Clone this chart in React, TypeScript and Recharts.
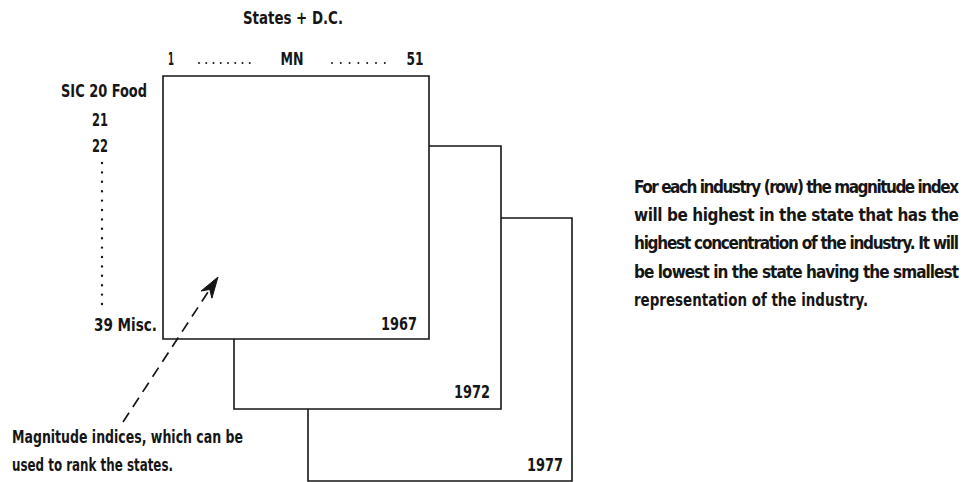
import React from 'react';
import { ComposedChart, XAxis, YAxis, ReferenceArea, ReferenceLine, Scatter } from 'recharts';

// Diagram coordinate system: x 0..964 (left→right), y 0..482 (top→bottom)
const boxYears = ['1977', '1972', '1967'];
const boxLeft = [308, 234, 163];
const boxRight = [572, 501, 429];
const boxTop = [218, 146, 76];
const boxBottom = [481, 409, 339];

const yearLabelX = [563, 490, 417];
const yearLabelY = [465, 392, 324];

const headerTitle = 'States + D.C.';
const stateLabels = ['1', 'MN', '51'];
const stateLabelX = [171, 292, 415];
const stateLabelW = [6, 23, 17];

const industryLabels = ['SIC 20 Food', '21', '22'];
const industryLabelY = [91, 120, 146];
const lastIndustry = '39 Misc.';

const noteLines = ['Magnitude indices, which can be', 'used to rank the states.'];
const noteY = [437, 465];
const noteW = [231, 161];

const paraLines = [
  'For each industry (row) the magnitude index',
  'will be highest in the state that has the',
  'highest concentration of the industry.  It will',
  'be lowest in the state having the smallest',
  'representation of the industry.',
];
const paraY = [187, 215, 243, 272, 300];
const paraW = [325, 325, 325, 325, 234];

const arrowTail = { x: 123, y: 422 };
const arrowNotch = { x: 210, y: 289 };
const arrowTip = { x: 218, y: 277 };

const FONT = "'Liberation Sans Narrow', 'Arial Narrow', 'DejaVu Sans Condensed', sans-serif";
const INK = '#161616';

type Lbl = { x: number; y: number; text: string; anchor: string; len?: number; adj?: string };

const labels: Lbl[] = [
  { x: 293, y: 18, text: headerTitle, anchor: 'middle', len: 100 },
  ...stateLabels.map((t, i) => ({ x: stateLabelX[i], y: 59, text: t, anchor: 'middle', len: stateLabelW[i] })),
  { x: 61, y: industryLabelY[0], text: industryLabels[0], anchor: 'start', len: 86 },
  { x: 100, y: industryLabelY[1], text: industryLabels[1], anchor: 'middle', len: 16 },
  { x: 100, y: industryLabelY[2], text: industryLabels[2], anchor: 'middle', len: 16 },
  { x: 157, y: 325, text: lastIndustry, anchor: 'end', len: 63 },
  ...boxYears.map((t, i) => ({ x: yearLabelX[i], y: yearLabelY[i], text: t, anchor: 'end', len: 36 })),
  ...noteLines.map((t, i) => ({ x: 12, y: noteY[i], text: t, anchor: 'start', len: noteW[i] })),
  ...paraLines.map((t, i) => ({ x: 634, y: paraY[i], text: t, anchor: 'start', len: paraW[i], adj: i < 4 ? 'spacing' : 'spacingAndGlyphs' })),
];

const TextShape = (props: any) => {
  const { cx, cy, payload } = props;
  return (
    <text
      x={cx}
      y={cy}
      dy="0.36em"
      textAnchor={payload.anchor}
      textLength={payload.len}
      lengthAdjust={payload.adj || 'spacingAndGlyphs'}
      fontFamily={FONT}
      fontWeight={700}
      fontSize={17}
      fill={INK}
    >
      {payload.text}
    </text>
  );
};

const ArrowHead = (props: any) => {
  const { cx, cy } = props;
  return (
    <polygon
      transform={`translate(${cx},${cy})`}
      points="0,0 -16.9,14 -8.2,12.5 -6.1,21.2"
      fill={INK}
      stroke={INK}
      strokeWidth={1}
      strokeLinejoin="round"
    />
  );
};

export default function App() {
  return (
    <div style={{ position: 'absolute', left: 0, top: 0, width: 964, height: 482, background: '#fff' }}>
      <ComposedChart width={964} height={482} margin={{ top: 0, right: 0, bottom: 0, left: 0 }}>
        <XAxis type="number" dataKey="x" domain={[0, 964]} hide allowDataOverflow />
        <YAxis type="number" dataKey="y" domain={[0, 482]} reversed hide allowDataOverflow />
        {boxYears.map((yr, i) => (
          <ReferenceArea
            key={yr}
            x1={boxLeft[i]}
            x2={boxRight[i]}
            y1={boxTop[i]}
            y2={boxBottom[i]}
            fill="#ffffff"
            fillOpacity={1}
            stroke={INK}
            strokeWidth={1.6}
            ifOverflow="visible"
          />
        ))}
        <ReferenceLine
          segment={[{ x: 199, y: 63 }, { x: 257, y: 63 }]}
          stroke={INK}
          strokeWidth={2}
          strokeLinecap="round"
          strokeDasharray="0 7.25"
          ifOverflow="visible"
        />
        <ReferenceLine
          segment={[{ x: 332, y: 63 }, { x: 385, y: 63 }]}
          stroke={INK}
          strokeWidth={2}
          strokeLinecap="round"
          strokeDasharray="0 8.8"
          ifOverflow="visible"
        />
        <ReferenceLine
          segment={[{ x: 102, y: 163 }, { x: 102, y: 304 }]}
          stroke={INK}
          strokeWidth={2.4}
          strokeLinecap="round"
          strokeDasharray="0 9.4"
          ifOverflow="visible"
        />
        <ReferenceLine
          segment={[arrowTail, arrowNotch]}
          stroke={INK}
          strokeWidth={1.7}
          strokeDasharray="11 7"
          ifOverflow="visible"
        />
        <Scatter data={[arrowTip]} shape={ArrowHead} isAnimationActive={false} />
        <Scatter data={labels} shape={TextShape} isAnimationActive={false} />
      </ComposedChart>
    </div>
  );
}
